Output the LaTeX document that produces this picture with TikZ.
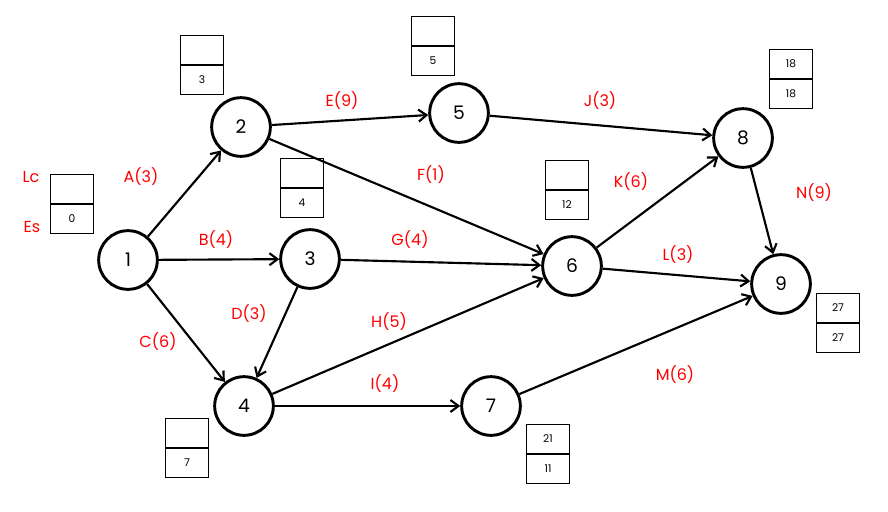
\documentclass[tikz,border=0pt]{standalone}
\usepackage{fontspec}
\setmainfont{Poppins}
\usetikzlibrary{arrows.meta}
\tikzset{
  event/.style={circle,draw,line width=2.2pt,minimum size=44pt,inner sep=0pt,font=\fontsize{14}{16}\selectfont},
  act/.style={-{Straight Barb[length=6pt,width=9pt]},line width=1.6pt},
  lbl/.style={text=red,font=\fontsize{12}{14}\selectfont},
  cell/.style={draw,line width=0.6pt,minimum width=32pt,minimum height=22pt,inner sep=0pt,font=\fontsize{8}{9}\selectfont}
}
\newcommand{\timebox}[4]{%
  \node[cell,anchor=south] (#1t) at (#2) {#3};
  \node[cell,anchor=north] (#1b) at (#2) {#4};}
\begin{document}
\begin{tikzpicture}[x=0.75pt,y=-0.75pt]
\useasboundingbox (0,0) rectangle (888,511);
% events
\node[event] (n1) at (128,260) {1};
\node[event] (n2) at (241,127) {2};
\node[event] (n3) at (310,259) {3};
\node[event] (n4) at (244,406) {4};
\node[event] (n5) at (459,113) {5};
\node[event] (n6) at (572,266) {6};
\node[event] (n7) at (491,406) {7};
\node[event] (n8) at (743,138) {8};
\node[event] (n9) at (781,284) {9};
% activities
\draw[act] (n1) -- (n2);
\draw[act] (n1) -- (n3);
\draw[act] (n1) -- (n4);
\draw[act] (n2) -- (n5);
\draw[act] (n2) -- (n6);
\draw[act] (n3) -- (n6);
\draw[act] (n3) -- (n4);
\draw[act] (n4) -- (n6);
\draw[act] (n4) -- (n7);
\draw[act] (n5) -- (n8);
\draw[act] (n6) -- (n8);
\draw[act] (n6) -- (n9);
\draw[act] (n7) -- (n9);
\draw[act] (n8) -- (n9);
% labels
\node[lbl] (lA) at (141,177) {A(3)};
\node[lbl] (lB) at (216,240) {B(4)};
\node[lbl] (lC) at (158,342) {C(6)};
\node[lbl] (lD) at (249,314) {D(3)};
\node[lbl] (lE) at (342,101) {E(9)};
\node[lbl] (lF) at (431,175) {F(1)};
\node[lbl] (lG) at (410,240) {G(4)};
\node[lbl] (lH) at (389,322) {H(5)};
\node[lbl] (lI) at (385,384) {I(4)};
\node[lbl] (lJ) at (600,101) {J(3)};
\node[lbl] (lK) at (631,182) {K(6)};
\node[lbl] (lL) at (678,255) {L(3)};
\node[lbl] (lM) at (675,375) {M(6)};
\node[lbl] (lN) at (814,193) {N(9)};
\node[lbl] (lLc) at (31,177) {Lc};
\node[lbl] (lEs) at (32,227) {Es};
% time boxes
\timebox{b1}{72,204}{}{0}
\timebox{b2}{202,65}{}{3}
\timebox{b3}{302,188}{}{4}
\timebox{b5}{433,46}{}{5}
\timebox{b6}{567,190}{}{12}
\timebox{b8}{791,79}{18}{18}
\timebox{b9}{838,323}{27}{27}
\timebox{b4}{187,448}{}{7}
\timebox{b7}{548,454}{21}{11}
\end{tikzpicture}
\end{document}
